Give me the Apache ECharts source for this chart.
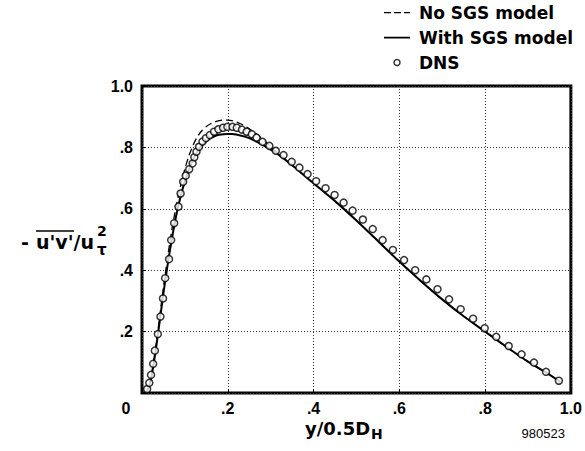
<!DOCTYPE html>
<html>
<head>
<meta charset="utf-8">
<script src="https://cdn.jsdelivr.net/npm/echarts@6/dist/echarts.min.js"></script>
<style>
html,body{margin:0;padding:0;background:#fff;}
#chart{width:585px;height:451px;}
</style>
</head>
<body>
<div id="chart"></div>
<script>
// Tick labels
var xTickLabels = {0: '{z|0}', 0.2: '.2', 0.4: '.4', 0.6: '.6', 0.8: '.8', 1: '1.0'};
var yTickLabels = {0: '', 0.2: '.2', 0.4: '.4', 0.6: '.6', 0.8: '.8', 1: '1.0'};

// No SGS model (dashed)
var noSgsX = [0.010, 0.020, 0.030, 0.040, 0.050, 0.060, 0.070, 0.080, 0.090, 0.100, 0.110, 0.120, 0.130, 0.140, 0.150, 0.160, 0.170, 0.180, 0.190, 0.200, 0.210, 0.220, 0.230, 0.240, 0.250, 0.260, 0.270, 0.280, 0.290, 0.300, 0.320, 0.350, 0.400, 0.450, 0.500, 0.550, 0.600, 0.650, 0.700, 0.750, 0.800, 0.850, 0.900, 0.950, 0.975];
var noSgsY = [0.000, 0.045, 0.130, 0.235, 0.345, 0.445, 0.535, 0.610, 0.675, 0.730, 0.775, 0.810, 0.837, 0.855, 0.868, 0.877, 0.883, 0.887, 0.889, 0.889, 0.887, 0.883, 0.877, 0.870, 0.861, 0.851, 0.840, 0.828, 0.815, 0.802, 0.778, 0.742, 0.683, 0.625, 0.562, 0.495, 0.428, 0.365, 0.305, 0.250, 0.200, 0.150, 0.102, 0.060, 0.036];

// With SGS model (solid)
var sgsX = [0.010, 0.020, 0.030, 0.040, 0.050, 0.060, 0.070, 0.080, 0.090, 0.100, 0.110, 0.120, 0.130, 0.140, 0.150, 0.160, 0.170, 0.180, 0.190, 0.200, 0.210, 0.220, 0.240, 0.260, 0.280, 0.300, 0.320, 0.350, 0.400, 0.450, 0.500, 0.550, 0.600, 0.650, 0.700, 0.750, 0.800, 0.850, 0.900, 0.950, 0.975];
var sgsY = [0.000, 0.040, 0.120, 0.220, 0.325, 0.420, 0.505, 0.580, 0.640, 0.690, 0.730, 0.763, 0.788, 0.807, 0.820, 0.830, 0.837, 0.841, 0.843, 0.844, 0.844, 0.842, 0.835, 0.824, 0.809, 0.793, 0.775, 0.742, 0.683, 0.625, 0.562, 0.495, 0.428, 0.365, 0.305, 0.250, 0.200, 0.150, 0.102, 0.060, 0.036];

// DNS (circles)
var dnsX = [0.012, 0.017, 0.021, 0.026, 0.030, 0.037, 0.043, 0.049, 0.054, 0.063, 0.068, 0.075, 0.085, 0.090, 0.096, 0.102, 0.110, 0.118, 0.122, 0.127, 0.133, 0.141, 0.149, 0.158, 0.168, 0.178, 0.189, 0.199, 0.211, 0.221, 0.233, 0.244, 0.256, 0.267, 0.281, 0.297, 0.312, 0.330, 0.349, 0.367, 0.386, 0.406, 0.428, 0.449, 0.470, 0.491, 0.515, 0.538, 0.561, 0.585, 0.611, 0.637, 0.663, 0.689, 0.716, 0.743, 0.772, 0.799, 0.826, 0.855, 0.885, 0.914, 0.942, 0.972];
var dnsY = [0.013, 0.033, 0.059, 0.095, 0.138, 0.192, 0.249, 0.308, 0.374, 0.436, 0.498, 0.553, 0.607, 0.650, 0.688, 0.708, 0.729, 0.748, 0.768, 0.786, 0.802, 0.819, 0.830, 0.840, 0.851, 0.859, 0.864, 0.867, 0.867, 0.864, 0.858, 0.851, 0.843, 0.832, 0.818, 0.805, 0.789, 0.775, 0.753, 0.734, 0.713, 0.690, 0.667, 0.645, 0.620, 0.594, 0.565, 0.534, 0.498, 0.466, 0.433, 0.400, 0.370, 0.338, 0.305, 0.273, 0.242, 0.211, 0.183, 0.153, 0.126, 0.099, 0.069, 0.040];

function zip(a, b) { return a.map(function (v, i) { return [v, b[i]]; }); }

var FONT = 'Liberation Sans, Arial, Helvetica, sans-serif';
var WIDE = 'DejaVu Sans, Liberation Sans, sans-serif';
var chart = echarts.init(document.getElementById('chart'), null, {renderer: 'svg'});

var dashIcon = 'path://M0,0h0.01v0.01h-0.01z M0,2.4h7v1.4h-7z M10,2.4h7v1.4h-7z M20,2.4h6v1.4h-6z M26,6h0.01v0.01h-0.01z';
var solidIcon = 'path://M0,0h0.01v0.01h-0.01z M0,2.3h26v1.6h-26z M26,6h0.01v0.01h-0.01z';

var option = {
  backgroundColor: '#fff',
  animation: false,
  grid: {left: 142, right: 14, top: 86, bottom: 58, show: true, borderColor: '#000', borderWidth: 3, backgroundColor: 'transparent'},
  legend: {
    orient: 'vertical', left: 379, top: -1, itemWidth: 26, itemHeight: 6, itemGap: 8,
    textStyle: {fontFamily: WIDE, fontWeight: 'bold', fontSize: 17, color: '#000', padding: [0, 0, 0, 4]},
    data: [
      {name: 'No SGS model', icon: dashIcon, itemStyle: {color: '#000', borderWidth: 0}},
      {name: 'With SGS model', icon: solidIcon, itemStyle: {color: '#000', borderWidth: 0}},
      {name: 'DNS', icon: 'circle', itemStyle: {color: '#fff', borderColor: '#000', borderWidth: 1.5}}
    ]
  },
  xAxis: {
    type: 'value', min: 0, max: 1, interval: 0.2,
    axisLine: {show: false},
    axisTick: {show: true, inside: true, length: 4, lineStyle: {color: '#000'}},
    axisLabel: {margin: 7, fontFamily: FONT, fontWeight: 'bold', fontSize: 16, color: '#000',
      rich: {z: {fontFamily: FONT, fontWeight: 'bold', fontSize: 16, color: '#000', padding: [0, 32, 0, 0]}},
      formatter: function (v) { var k = Math.round(v * 10) / 10; return xTickLabels[k]; }},
    splitLine: {show: true, lineStyle: {type: [1, 2], color: '#333', width: 1}}
  },
  yAxis: {
    type: 'value', min: 0, max: 1, interval: 0.2,
    axisLine: {show: false},
    axisTick: {show: true, inside: true, length: 4, lineStyle: {color: '#000'}},
    axisLabel: {margin: 9, fontFamily: FONT, fontWeight: 'bold', fontSize: 16, color: '#000',
      formatter: function (v) { var k = Math.round(v * 10) / 10; return yTickLabels[k]; }},
    splitLine: {show: true, lineStyle: {type: [1, 2], color: '#333', width: 1}}
  },
  title: {
    text: '980523', right: 15, bottom: 6,
    textStyle: {fontFamily: FONT, fontWeight: 'normal', fontSize: 13, color: '#000'}
  },
  graphic: [
    {type: 'text', left: 21, top: 232, style: {text: '-', font: 'bold 19px ' + WIDE, fill: '#000'}},
    {type: 'text', left: 36, top: 232, style: {text: "u'v'/u", font: 'bold 19px ' + WIDE, fill: '#000'}},
    {type: 'line', shape: {x1: 36, y1: 231, x2: 74, y2: 231}, style: {stroke: '#000', lineWidth: 1.6}},
    {type: 'text', left: 97, top: 224, style: {text: '2', font: 'bold 14px ' + WIDE, fill: '#000'}},
    {type: 'text', left: 97, top: 242, style: {text: '\u03c4', font: 'bold 15px ' + WIDE, fill: '#000'}},
    {type: 'text', left: 305, top: 419, style: {text: 'y/0.5D', font: 'bold 18px ' + WIDE, fill: '#000'}},
    {type: 'text', left: 371, top: 427, style: {text: 'H', font: 'bold 14px ' + WIDE, fill: '#000'}}
  ],
  series: [
    {name: 'No SGS model', type: 'line', symbol: 'none', data: zip(noSgsX, noSgsY), smooth: 0.3,
      lineStyle: {color: '#000', width: 1.3, type: [7, 4]}, itemStyle: {color: '#000'}, z: 3},
    {name: 'With SGS model', type: 'line', symbol: 'none', data: zip(sgsX, sgsY), smooth: 0.3,
      lineStyle: {color: '#000', width: 2}, itemStyle: {color: '#000'}, z: 4},
    {name: 'DNS', type: 'scatter', symbol: 'circle', symbolSize: 7, data: zip(dnsX, dnsY),
      itemStyle: {color: '#fff', borderColor: '#000', borderWidth: 1.5}, z: 5}
  ]
};
chart.setOption(option);
</script>
</body>
</html>
